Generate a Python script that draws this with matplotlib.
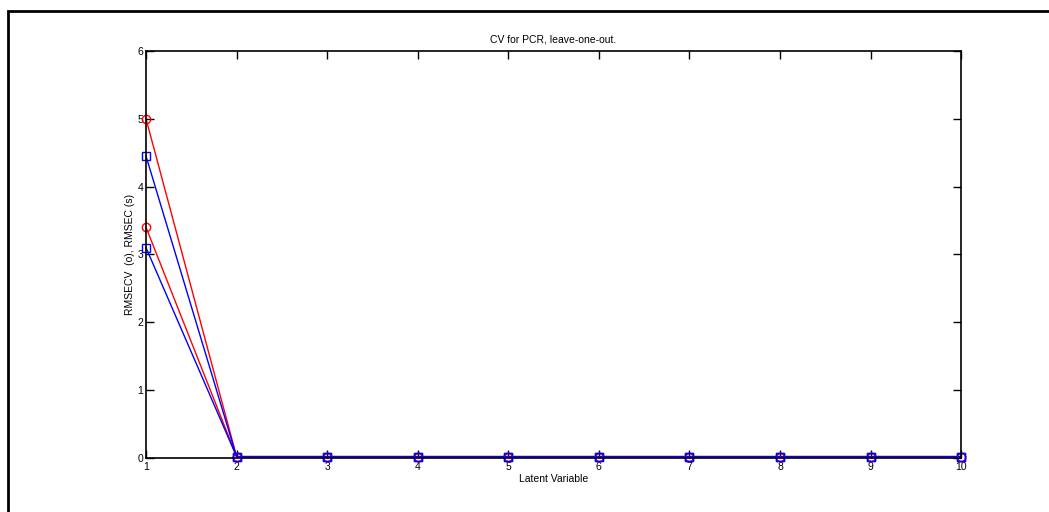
import matplotlib
matplotlib.use("Agg")
import matplotlib.pyplot as plt
from matplotlib.patches import Rectangle

plt.rcParams['font.family'] = ['Liberation Sans', 'DejaVu Sans']

latent = [1, 2, 3, 4, 5, 6, 7, 8, 9, 10]
# RMSECV (circles) for the two responses
rmsecv_a = [5.00, 0.02, 0.02, 0.02, 0.02, 0.02, 0.02, 0.02, 0.02, 0.02]
rmsecv_b = [3.40, 0.02, 0.02, 0.02, 0.02, 0.02, 0.02, 0.02, 0.02, 0.02]
# RMSEC (squares) for the two responses
rmsec_a = [4.45, 0.02, 0.02, 0.02, 0.02, 0.02, 0.02, 0.02, 0.02, 0.02]
rmsec_b = [3.10, 0.02, 0.02, 0.02, 0.02, 0.02, 0.02, 0.02, 0.02, 0.02]

fig = plt.figure(figsize=(10.49, 5.12), dpi=100)
ax = fig.add_axes([0.1392, 0.1055, 0.7770, 0.7949])

for ys in (rmsecv_a, rmsecv_b):
    ax.plot(latent, ys, color='red', lw=1.0, marker='o', ms=6,
            mfc='none', mec='red', mew=1.0, clip_on=False)
for ys in (rmsec_a, rmsec_b):
    ax.plot(latent, ys, color='blue', lw=1.0, marker='s', ms=6,
            mfc='none', mec='blue', mew=1.0, clip_on=False)

ax.set_xlim(1, 10)
ax.set_ylim(0, 6)
ax.set_xticks(latent)
ax.set_yticks(range(0, 7))
ax.tick_params(direction='in', length=6, width=1.0, labelsize=7.5,
               top=True, right=True, colors='black')
ax.tick_params(axis='x', pad=3)
ax.tick_params(axis='y', pad=2)
for s in ax.spines.values():
    s.set_linewidth(1.2)

ax.set_title('CV for PCR, leave-one-out.', fontsize=7.5, pad=6)
ax.set_xlabel('Latent Variable', fontsize=7.5, labelpad=1)
ax.set_ylabel('RMSECV  (o), RMSEC (s)', fontsize=7.5, labelpad=2)

# outer frame around the figure
fig.patches.append(Rectangle((8 / 1049, -0.1), 1.2, 1 - 11 / 512 + 0.1,
                             transform=fig.transFigure, fill=False,
                             edgecolor='black', linewidth=2.0))

fig.savefig('out.png', dpi=100)
